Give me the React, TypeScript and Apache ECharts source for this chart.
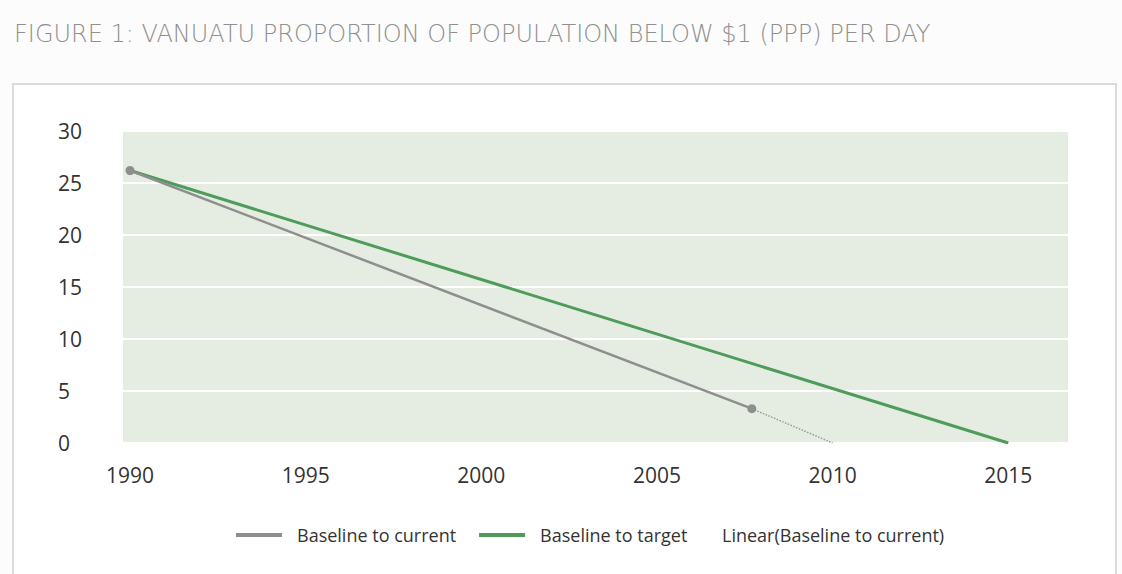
import React, { useEffect, useRef } from "react";
import * as echarts from "echarts";

// Share of the population living below $1 (PPP) a day, in percent
const titleText = "FIGURE 1: VANUATU PROPORTION OF POPULATION BELOW $1 (PPP) PER DAY";
const yearTicks = [1990, 1995, 2000, 2005, 2010, 2015];
const baselineToCurrent: [number, number][] = [
  [1990, 26.2],
  [2007.7, 3.3],
];
const baselineToTarget: [number, number][] = [
  [1990, 26.2],
  [2015, 0],
];
const linearTrend: [number, number][] = [
  [2007.7, 3.3],
  [2010, 0],
];
const seriesNames = [
  "Baseline to current",
  "Baseline to target",
  "Linear(Baseline to current)",
];

const FONT = "'Open Sans', 'DejaVu Sans', sans-serif";
const TITLE_FONT = "'DejaVu Sans', 'Open Sans', sans-serif";

export default function App() {
  const ref = useRef<HTMLDivElement>(null);

  useEffect(() => {
    document.body.style.margin = "0";
    if (!ref.current) return;
    const chart = echarts.init(ref.current, undefined, { renderer: "svg" });
    chart.setOption({
      animation: false,
      backgroundColor: "#fbfcfb",
      textStyle: { fontFamily: FONT },
      title: {
        text: titleText,
        left: 9,
        top: 17,
        textStyle: {
          color: "#909090",
          fontSize: 24,
          fontWeight: 200,
          fontFamily: TITLE_FONT,
        },
      },
      graphic: [
        {
          type: "rect",
          z: -10,
          silent: true,
          shape: { x: 13, y: 84, width: 1103, height: 510 },
          style: { fill: "#ffffff", stroke: "#d9ddd9", lineWidth: 2 },
        },
      ],
      grid: {
        left: 123,
        right: 54,
        top: 131,
        bottom: 131,
        show: true,
        backgroundColor: "#e5ede2",
        borderWidth: 0,
      },
      legend: [
        {
          left: 231,
          top: 521,
          itemWidth: 46,
          itemHeight: 4,
          itemGap: 23,
          icon: "rect",
          data: [
            { name: seriesNames[0], itemStyle: { color: "#8e8e8e" } },
            { name: seriesNames[1], itemStyle: { color: "#4f9b5a" } },
          ],
          textStyle: {
            color: "#333333",
            fontSize: 18,
            fontFamily: FONT,
            padding: [0, 0, 0, 10],
          },
        },
        {
          left: 702,
          top: 521,
          itemWidth: 10,
          itemHeight: 4,
          icon: "rect",
          data: [
            {
              name: seriesNames[2],
              itemStyle: { color: "rgba(0,0,0,0)" },
            },
          ],
          textStyle: {
            color: "#333333",
            fontSize: 18,
            fontFamily: FONT,
          },
        },
      ],
      xAxis: {
        type: "value",
        min: 1989.8,
        max: 2016.7,
        axisLine: { show: false },
        axisTick: { show: false },
        splitLine: { show: false },
        axisLabel: {
          customValues: yearTicks,
          margin: 21,
          color: "#333333",
          fontSize: 21,
          fontFamily: FONT,
          formatter: (v: number) => String(v),
        },
      },
      yAxis: {
        type: "value",
        min: 0,
        max: 30,
        interval: 5,
        axisLine: { show: false },
        axisTick: { show: false },
        splitLine: { show: true, lineStyle: { color: "#ffffff", width: 2 } },
        axisLabel: {
          align: "left",
          margin: 65,
          color: "#333333",
          fontSize: 21,
          fontFamily: FONT,
        },
      },
      series: [
        {
          name: seriesNames[1],
          type: "line",
          data: baselineToTarget,
          showSymbol: false,
          symbol: "none",
          lineStyle: { color: "#4f9b5a", width: 3 },
          itemStyle: { color: "#4f9b5a" },
          z: 2,
        },
        {
          name: seriesNames[0],
          type: "line",
          data: baselineToCurrent,
          symbol: "circle",
          symbolSize: 9,
          lineStyle: { color: "#8e8e8e", width: 2.5 },
          itemStyle: { color: "#8e8e8e" },
          z: 3,
        },
        {
          name: seriesNames[2],
          type: "line",
          data: linearTrend,
          symbol: "none",
          lineStyle: { color: "#9a9a9a", width: 1.5, type: "dotted" },
          itemStyle: { color: "#9a9a9a" },
          z: 1,
        },
      ],
    });
    return () => chart.dispose();
  }, []);

  return <div ref={ref} style={{ width: 1122, height: 574 }} />;
}
